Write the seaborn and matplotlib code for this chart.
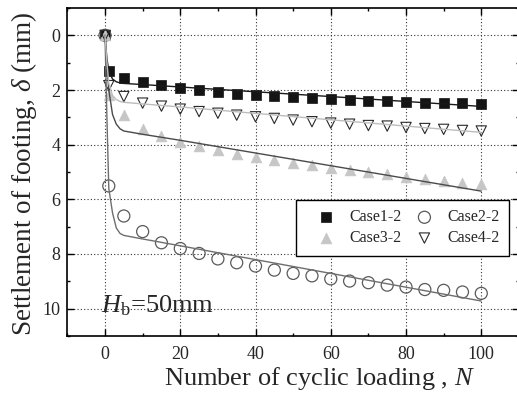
import matplotlib
matplotlib.use("Agg")
import matplotlib.pyplot as plt
import seaborn as sns
import pandas as pd
from matplotlib.ticker import MultipleLocator

# ---- data ----
N_pts = [0, 1, 5, 10, 15, 20, 25, 30, 35, 40, 45, 50, 55, 60, 65, 70, 75, 80, 85, 90, 95, 100]
case1_2 = [0, 1.29, 1.56, 1.72, 1.83, 1.91, 2.00, 2.06, 2.13, 2.18, 2.21, 2.26, 2.29, 2.34, 2.37, 2.40, 2.42, 2.43, 2.46, 2.48, 2.49, 2.51]
case2_2 = [0, 5.51, 6.61, 7.18, 7.59, 7.80, 7.98, 8.18, 8.32, 8.44, 8.59, 8.71, 8.80, 8.91, 8.99, 9.05, 9.14, 9.21, 9.30, 9.33, 9.39, 9.44]
case3_2 = [0, 2.17, 2.90, 3.43, 3.68, 3.90, 4.05, 4.20, 4.33, 4.44, 4.56, 4.68, 4.76, 4.85, 4.93, 5.01, 5.07, 5.18, 5.24, 5.33, 5.40, 5.45]
case4_2 = [0, 1.84, 2.24, 2.48, 2.59, 2.70, 2.79, 2.85, 2.92, 2.98, 3.04, 3.10, 3.16, 3.21, 3.25, 3.30, 3.32, 3.37, 3.41, 3.44, 3.48, 3.50]

# fitted curves
fit_N = [0, 0.5, 1, 2, 3, 4, 5, 10, 20, 60, 100]
fit1_2 = [0, 0.85, 1.30, 1.60, 1.70, 1.74, 1.76, 1.80, 1.89, 2.24, 2.60]
fit2_2 = [0, 3.00, 5.60, 6.50, 7.05, 7.25, 7.32, 7.45, 7.70, 8.71, 9.72]
fit3_2 = [0, 1.10, 2.00, 2.90, 3.25, 3.42, 3.50, 3.62, 3.84, 4.77, 5.70]
fit4_2 = [0, 1.00, 1.75, 2.20, 2.35, 2.42, 2.45, 2.51, 2.62, 3.09, 3.55]

labels = ["Case1-2", "Case2-2", "Case3-2", "Case4-2"]
x_ticks = [0, 20, 40, 60, 80, 100]
y_ticks = [0, 2, 4, 6, 8, 10]

sns.set_theme(style="ticks")
plt.rcParams["font.family"] = ["Liberation Serif", "DejaVu Serif"]
plt.rcParams["mathtext.fontset"] = "custom"
plt.rcParams["mathtext.rm"] = "Liberation Serif"
plt.rcParams["mathtext.it"] = "Liberation Serif:italic"

fig = plt.figure(figsize=(5.17, 3.93), dpi=100)
ax = fig.add_axes([67.4 / 517, 1 - 336 / 393, 451.5 / 517, 328 / 393])

pts = pd.DataFrame({"N": N_pts, "c1": case1_2, "c2": case2_2, "c3": case3_2, "c4": case4_2})
fit = pd.DataFrame({"N": fit_N, "c1": fit1_2, "c2": fit2_2, "c3": fit3_2, "c4": fit4_2})

styles = {
    "c1": dict(marker="s", s=55, color="#141414", edgecolor="#141414", linewidth=0.5),
    "c2": dict(marker="o", s=75, color="none", edgecolor="#5a5a5a", linewidth=0.9),
    "c3": dict(marker="^", s=60, color="#c6c6c6", edgecolor="#c6c6c6", linewidth=0.5),
    "c4": dict(marker="v", s=55, color="none", edgecolor="#2a2a2a", linewidth=0.8),
}
line_colors = {"c1": "#1a1a1a", "c2": "#6e6e6e", "c3": "#4a4a4a", "c4": "#bdbdbd"}

for key, lab in zip(["c1", "c2", "c3", "c4"], labels):
    st = styles[key]
    sns.scatterplot(data=pts, x="N", y=key, ax=ax, marker=st["marker"], s=st["s"],
                    facecolor=st["color"], edgecolor=st["edgecolor"],
                    linewidth=st["linewidth"], zorder=3, label=lab)
for key in ["c1", "c2", "c3", "c4"]:
    sns.lineplot(data=fit, x="N", y=key, ax=ax, color=line_colors[key], lw=1.0,
                 zorder=4, estimator=None, sort=False)

ax.set_xlim(-10, 110)
ax.set_ylim(11, -1)
ax.set_xticks(x_ticks)
ax.set_yticks(y_ticks)
ax.xaxis.set_minor_locator(MultipleLocator(10))
ax.yaxis.set_minor_locator(MultipleLocator(1))
ax.tick_params(which="both", direction="in", top=True, right=True, width=1.0, color="black")
ax.tick_params(which="major", length=5)
ax.tick_params(which="minor", length=2.5)
ax.tick_params(axis="x", which="major", labelsize=13, pad=7)
ax.tick_params(axis="y", which="major", labelsize=13, pad=5)
ax.grid(True, which="major", linestyle=(0, (1, 2)), color="#333333", linewidth=0.8)
for sp in ax.spines.values():
    sp.set_linewidth(1.2)
    sp.set_color("black")

ax.set_xlabel("Number of cyclic loading , $\\it{N}$", fontsize=19)
ax.set_ylabel("Settlement of footing, $\\it{\\delta}$ (mm)", fontsize=19.5)
ax.xaxis.set_label_coords(0.559, -0.088)
ax.yaxis.set_label_coords(-0.062, 0.495)

ax.text(-1.2, 10.15, "$H_{\\mathrm{b}}$=50mm", fontsize=19, va="baseline", ha="left")

h, l = ax.get_legend_handles_labels()
order = [0, 2, 1, 3]
leg = ax.legend([h[i] for i in order], [l[i] for i in order], ncol=2, loc="upper right",
                bbox_to_anchor=(0.979, 0.415), borderaxespad=0, fontsize=11.5, frameon=True,
                fancybox=False, edgecolor="black", framealpha=1, borderpad=0.6,
                handletextpad=0.15, columnspacing=0.15, labelspacing=0.3, handlelength=2.6)
leg.get_frame().set_linewidth(1.0)

fig.savefig("out.png", dpi=100)
